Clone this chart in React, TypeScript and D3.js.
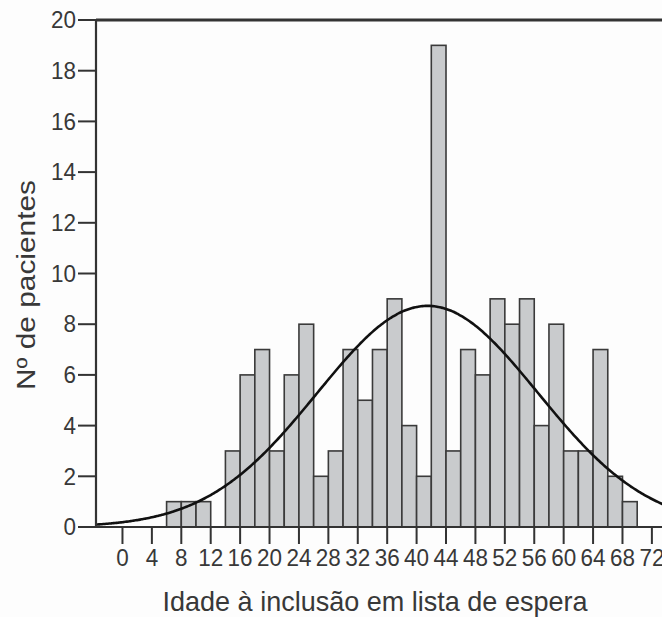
import React from "react";
import * as d3 from "d3";

// histogram bins (age, 2-year bins) and patient counts
const binStarts = [6, 8, 10, 12, 14, 16, 18, 20, 22, 24, 26, 28, 30, 32, 34, 36, 38, 40, 42, 44, 46, 48, 50, 52, 54, 56, 58, 60, 62, 64, 66, 68, 70];
const counts = [1, 1, 1, 0, 3, 6, 7, 3, 6, 8, 2, 3, 7, 5, 7, 9, 4, 2, 19, 3, 7, 6, 9, 8, 9, 4, 8, 3, 3, 7, 2, 1, 0];
const binWidth = 2;

const xTicks = [0, 4, 8, 12, 16, 20, 24, 28, 32, 36, 40, 44, 48, 52, 56, 60, 64, 68, 72];
const yTicks = [0, 2, 4, 6, 8, 10, 12, 14, 16, 18, 20];

// fitted normal curve
const curveMean = 41.5;
const curveSd = 15;

const xTitle = "Idade à inclusão em lista de espera";
const yTitle = "Nº de pacientes";

const W = 662;
const H = 617;
const font = "'Liberation Sans', Arial, sans-serif";

const App = () => {
  const x = d3.scaleLinear().domain([-3.6, 74]).range([96, 666.6]);
  const y = d3.scaleLinear().domain([0, 20]).range([527, 20]);

  const total = d3.sum(counts);
  const density = (v: number) =>
    (total * binWidth * Math.exp(-0.5 * ((v - curveMean) / curveSd) ** 2)) /
    (curveSd * Math.sqrt(2 * Math.PI));
  const samples = d3.range(-3.6, 74.01, 0.2);
  const line = d3
    .line<number>()
    .x((d) => x(d))
    .y((d) => y(density(d)))
    .curve(d3.curveBasis);

  const axisColor = "#333";
  const textColor = "#383838";

  return (
    <div style={{ position: "absolute", left: 0, top: 0, background: "#fff" }}>
      <svg width={W} height={H} style={{ display: "block" }}>
        <rect width={W} height={H} fill="#fdfdfd" />
        {/* bars */}
        {binStarts.map((b, i) =>
          counts[i] > 0 ? (
            <rect
              key={b}
              x={x(b)}
              y={y(counts[i])}
              width={x(b + binWidth) - x(b)}
              height={y(0) - y(counts[i])}
              fill="#c9cbcd"
              stroke="#3a3a3a"
              strokeWidth={1.6}
            />
          ) : null
        )}
        {/* normal curve */}
        <path d={line(samples) || ""} fill="none" stroke="#111" strokeWidth={2.6} />
        {/* frame top */}
        <line x1={x(-3.6)} x2={W} y1={y(20)} y2={y(20)} stroke={axisColor} strokeWidth={3} />
        {/* y axis */}
        <line x1={x(-3.6)} x2={x(-3.6)} y1={y(20) - 1} y2={y(0) + 1} stroke={axisColor} strokeWidth={2.2} />
        {yTicks.map((t) => (
          <g key={t}>
            <line x1={x(-3.6) - 18} x2={x(-3.6)} y1={y(t)} y2={y(t)} stroke={axisColor} strokeWidth={2} />
            <text
              x={x(-3.6) - 20}
              y={y(t)}
              dy="0.36em"
              textAnchor="end"
              fontFamily={font}
              fontSize={23}
              fill={textColor}
              textLength={String(t).length * 12.5}
              lengthAdjust="spacingAndGlyphs"
            >
              {t}
            </text>
          </g>
        ))}
        {/* x axis */}
        <line x1={x(-3.6)} x2={W} y1={y(0)} y2={y(0)} stroke={axisColor} strokeWidth={2.2} />
        {xTicks.map((t) => (
          <g key={t}>
            <line x1={x(t)} x2={x(t)} y1={y(0)} y2={y(0) + 17} stroke={axisColor} strokeWidth={2} />
            <text
              x={x(t)}
              y={566}
              textAnchor="middle"
              fontFamily={font}
              fontSize={23}
              fill={textColor}
              textLength={String(t).length * 12.5}
              lengthAdjust="spacingAndGlyphs"
            >
              {t}
            </text>
          </g>
        ))}
        {/* titles */}
        <text
          x={375}
          y={611}
          textAnchor="middle"
          fontFamily={font}
          fontSize={28}
          fill={textColor}
          textLength={425}
          lengthAdjust="spacingAndGlyphs"
        >
          {xTitle}
        </text>
        <text
          transform="translate(35,285) rotate(-90)"
          textAnchor="middle"
          fontFamily={font}
          fontSize={26}
          fill={textColor}
          textLength={210}
          lengthAdjust="spacingAndGlyphs"
        >
          {yTitle}
        </text>
      </svg>
    </div>
  );
};

export default App;
